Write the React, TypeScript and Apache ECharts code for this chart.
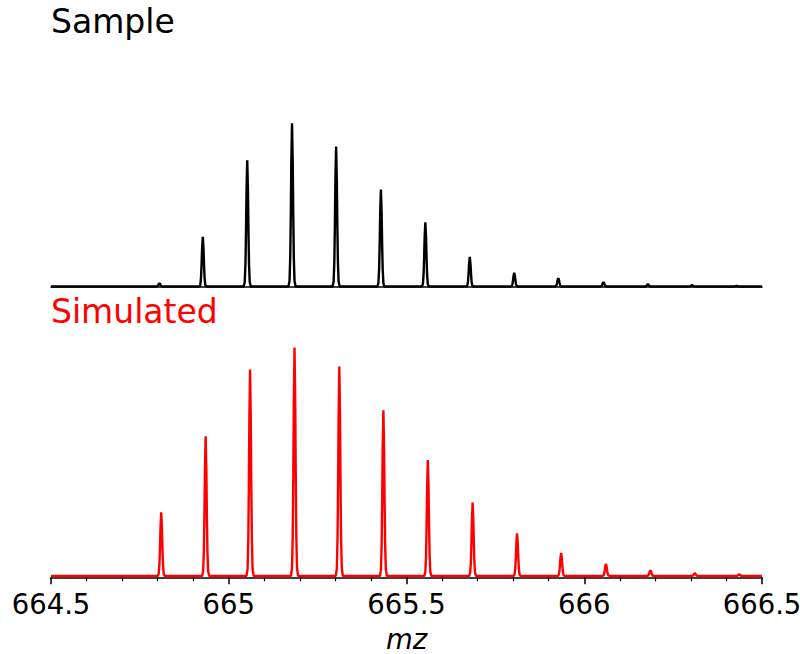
import React, { useEffect, useRef } from "react";
import * as echarts from "echarts";

// Peak centres (m/z) and relative intensities (% of the tallest peak)
const sampleMz = [664.805, 664.927, 665.052, 665.178, 665.302, 665.428, 665.553, 665.678, 665.803, 665.927, 666.054, 666.179, 666.303, 666.429];
const sampleIntensity = [2.0, 30.5, 77.4, 100, 85.7, 59.4, 39.3, 18.1, 8.4, 5.1, 2.6, 1.4, 0.8, 0.4];

const simulatedMz = [664.810, 664.935, 665.060, 665.185, 665.311, 665.435, 665.560, 665.686, 665.811, 665.935, 666.061, 666.186, 666.311, 666.436];
const simulatedIntensity = [27.9, 61.1, 90.4, 100, 91.7, 72.5, 50.7, 32.1, 18.6, 10.1, 5.3, 2.5, 1.2, 0.65];

const xTicks = [664.5, 665, 665.5, 666, 666.5];
const xMin = 664.5;
const xMax = 666.5;

// Shape of one peak profile: m/z offsets from the centre and fraction of the apex height
const shapeOffsets = [-0.01, -0.007, -0.005, -0.0035, -0.002, 0, 0.002, 0.0035, 0.005, 0.007, 0.01];
const shapeFractions = [0, 0.035, 0.18, 0.43, 0.76, 1, 0.76, 0.43, 0.18, 0.035, 0];

function buildProfile(centres: number[], heights: number[]): number[][] {
  const pts: number[][] = [[xMin, 0]];
  centres.forEach((c, i) => {
    shapeOffsets.forEach((o, j) => {
      pts.push([c + o, heights[i] * shapeFractions[j]]);
    });
  });
  pts.push([xMax, 0]);
  return pts;
}

const FONT = "DejaVu Sans";

export default function App() {
  const ref = useRef<HTMLDivElement>(null);
  useEffect(() => {
    if (!ref.current) return;
    const chart = echarts.init(ref.current, null, { renderer: "svg" });
    const commonX = {
      type: "value" as const,
      min: xMin,
      max: xMax,
      interval: 0.5,
      splitLine: { show: false },
    };
    chart.setOption({
      animation: false,
      backgroundColor: "#ffffff",
      grid: [
        { left: 51, width: 711, top: 123.3, height: 163.7, containLabel: false, outerBoundsMode: "none" },
        { left: 51, width: 711, top: 347.5, height: 229.8, containLabel: false, outerBoundsMode: "none" },
      ],
      xAxis: [
        {
          ...commonX,
          gridIndex: 0,
          axisLine: { show: true, lineStyle: { color: "#000", width: 1.5 } },
          axisTick: { show: false },
          axisLabel: { show: false },
        },
        {
          ...commonX,
          gridIndex: 1,
          axisLine: { show: true, onZero: false, lineStyle: { color: "#000", width: 1.5 } },
          axisTick: { show: true, length: 7, lineStyle: { color: "#000", width: 1.5 } },
          minorTick: { show: true, splitNumber: 5, length: 4, lineStyle: { color: "#000", width: 1.2 } },
          axisLabel: {
            show: true,
            margin: 27,
            verticalAlign: "middle",
            color: "#000",
            fontSize: 27.5,
            fontFamily: FONT,
            formatter: (v: number) => {
              const t = xTicks.find((k) => Math.abs(k - v) < 1e-6);
              return t === undefined ? "" : String(t);
            },
          },
          name: "mz",
          nameLocation: "middle",
          nameGap: 61.5,
          nameTextStyle: {
            color: "#000",
            fontSize: 27.5,
            fontStyle: "italic",
            fontFamily: FONT,
            verticalAlign: "middle",
          },
        },
      ],
      yAxis: [
        { type: "value", gridIndex: 0, min: -0.3, max: 100, show: false, splitLine: { show: false } },
        { type: "value", gridIndex: 1, min: -0.6, max: 100, show: false, splitLine: { show: false } },
      ],
      series: [
        {
          name: "Sample",
          type: "line",
          xAxisIndex: 0,
          yAxisIndex: 0,
          data: buildProfile(sampleMz, sampleIntensity),
          showSymbol: false,
          clip: false,
          lineStyle: { color: "#000000", width: 2.4 },
        },
        {
          name: "Simulated",
          type: "line",
          xAxisIndex: 1,
          yAxisIndex: 1,
          data: buildProfile(simulatedMz, simulatedIntensity),
          showSymbol: false,
          clip: false,
          lineStyle: { color: "#ff0000", width: 2.4 },
        },
      ],
      graphic: [
        {
          type: "text",
          left: 51,
          top: 5,
          style: { text: "Sample", fill: "#000", fontSize: 33, fontFamily: FONT },
        },
        {
          type: "text",
          left: 51,
          top: 295,
          style: { text: "Simulated", fill: "#ff0000", fontSize: 33, fontFamily: FONT },
        },
      ],
    });
    return () => chart.dispose();
  }, []);
  return (
    <div
      ref={ref}
      style={{ position: "fixed", left: 0, top: 0, width: 800, height: 654 }}
    />
  );
}
